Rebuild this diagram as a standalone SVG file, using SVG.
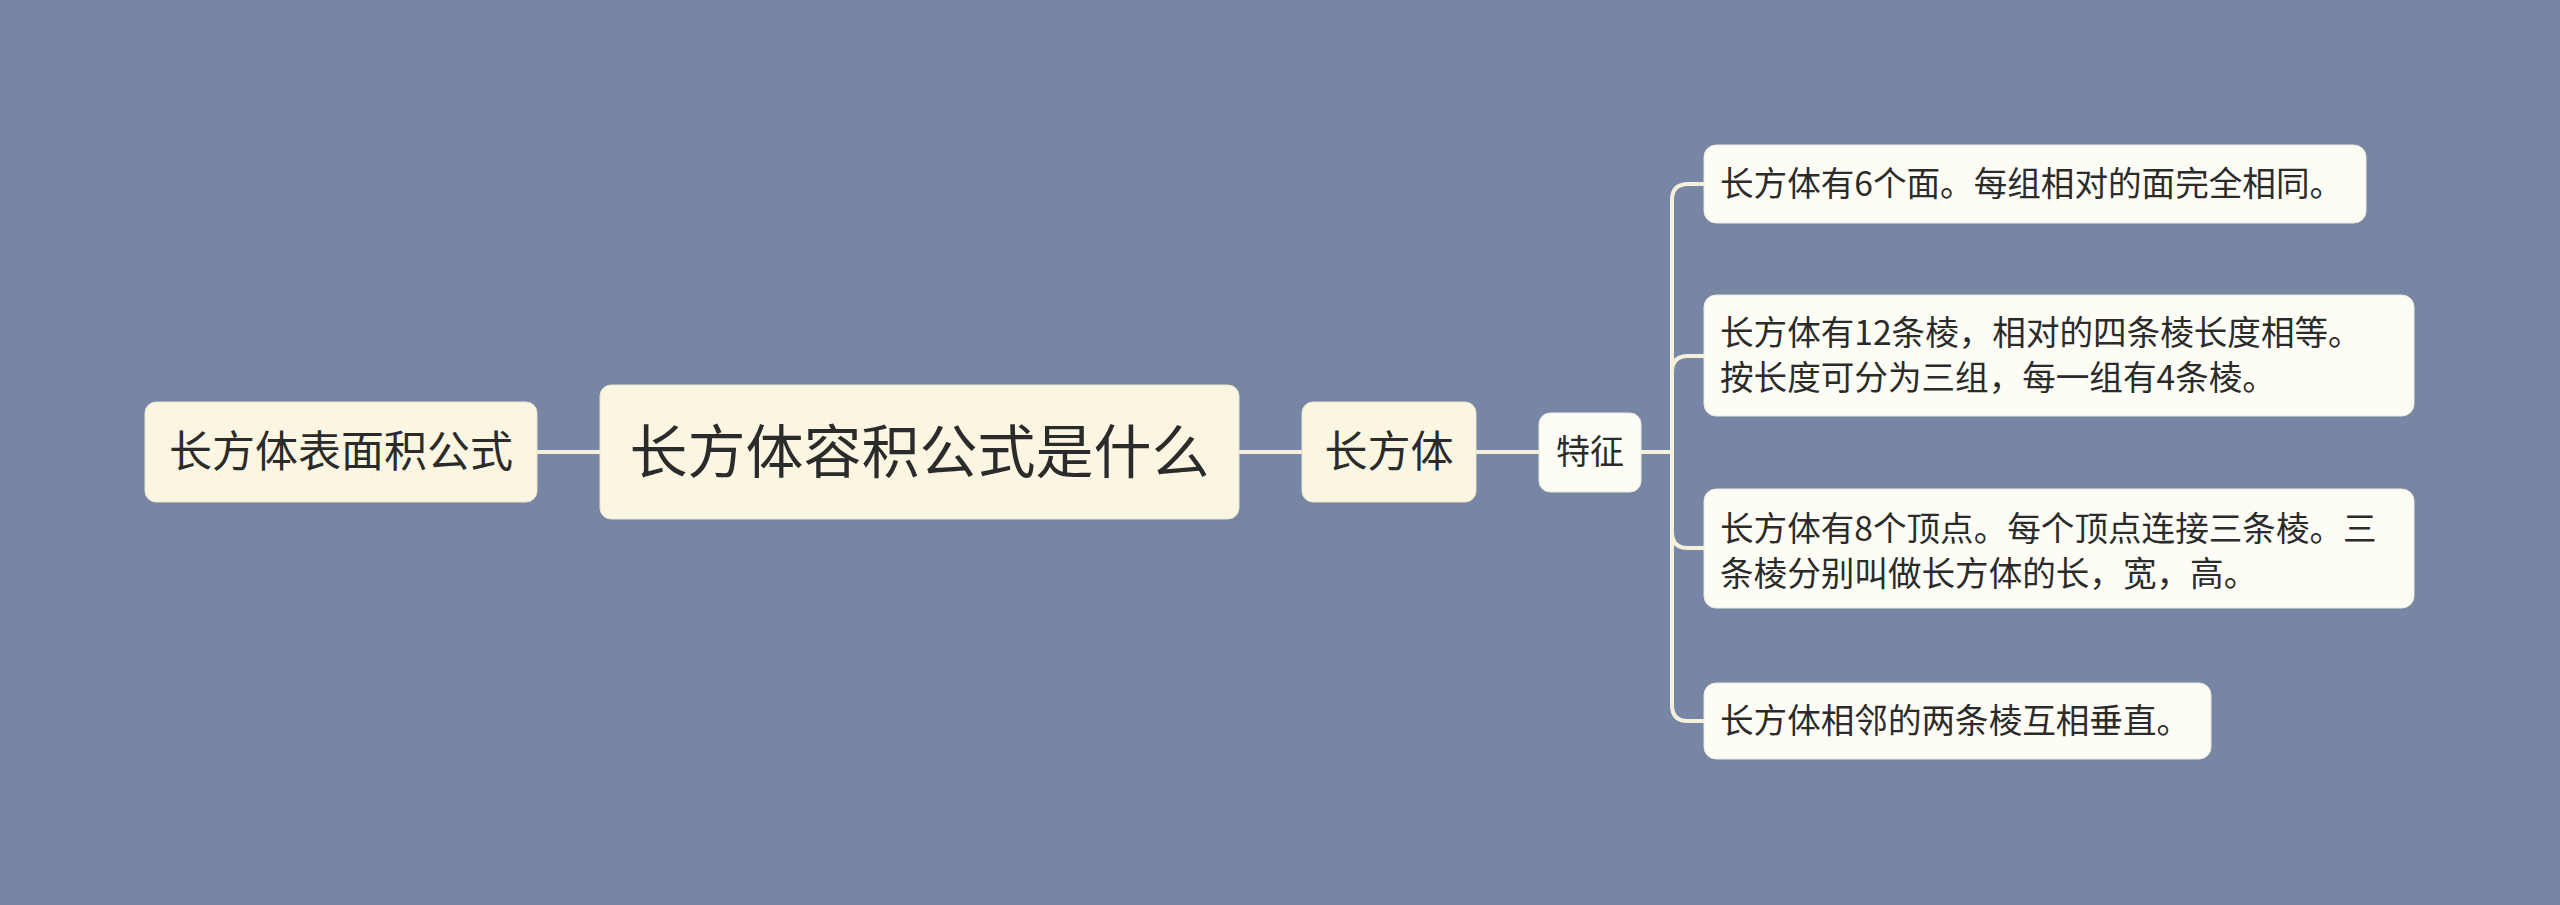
<svg xmlns="http://www.w3.org/2000/svg" width="2560" height="905" viewBox="0 0 2560 905">
<style>
.bg{fill:#7886a5}
.c{fill:none;stroke:#f4f0dc;stroke-width:4;stroke-linecap:round}
.n1{fill:#faf6e1;stroke:#e9e4cf;stroke-width:1}
.n2{fill:#fdfdf6;stroke:#e9e9e0;stroke-width:1}
text{font-family:"Noto Sans CJK SC","Noto Sans",sans-serif;fill:#2b2b2b}
.m{font-size:58px;text-anchor:middle}
.b{font-size:43px;text-anchor:middle}
.s{font-size:34px;text-anchor:middle}
.l{font-size:33.6px}
</style>
<rect class="bg" x="0" y="0" width="2560" height="905"/>
<g id="connectors">
<path class="c" d="M537 452H600"/>
<path class="c" d="M1239 452H1302"/>
<path class="c" d="M1476 452H1539"/>
<path class="c" d="M1641 452H1672"/>
<path class="c" d="M1672 452V200Q1672 184 1688 184H1704"/>
<path class="c" d="M1672 452V372Q1672 356 1688 356H1704"/>
<path class="c" d="M1672 452V532Q1672 548 1688 548H1704"/>
<path class="c" d="M1672 452V705Q1672 721 1688 721H1704"/>
</g>
<g id="node-left">
<rect class="n1" x="145" y="402" width="392" height="100" rx="11"/>
<text class="b" x="341" y="467">长方体表面积公式</text>
</g>
<g id="node-main">
<rect class="n1" x="600" y="385" width="639" height="134" rx="11"/>
<text class="m" x="919.5" y="473">长方体容积公式是什么</text>
</g>
<g id="node-cuboid">
<rect class="n1" x="1302" y="402" width="174" height="100" rx="11"/>
<text class="b" x="1389" y="467">长方体</text>
</g>
<g id="node-feature">
<rect class="n2" x="1539" y="413" width="102" height="79" rx="11"/>
<text class="s" x="1590" y="464">特征</text>
</g>
<g id="leaf-1">
<rect class="n2" x="1704" y="145" width="662" height="78" rx="12"/>
<text class="l" x="1720" y="196">长方体有6个面。每组相对的面完全相同。</text>
</g>
<g id="leaf-2">
<rect class="n2" x="1704" y="295" width="710" height="121" rx="12"/>
<text class="l" x="1720" y="345">长方体有12条棱，相对的四条棱长度相等。</text>
<text class="l" x="1720" y="390">按长度可分为三组，每一组有4条棱。</text>
</g>
<g id="leaf-3">
<rect class="n2" x="1704" y="489" width="710" height="119" rx="12"/>
<text class="l" x="1720" y="541">长方体有8个顶点。每个顶点连接三条棱。三</text>
<text class="l" x="1720" y="586">条棱分别叫做长方体的长，宽，高。</text>
</g>
<g id="leaf-4">
<rect class="n2" x="1704" y="683" width="507" height="76" rx="12"/>
<text class="l" x="1720" y="733">长方体相邻的两条棱互相垂直。</text>
</g>
</svg>
